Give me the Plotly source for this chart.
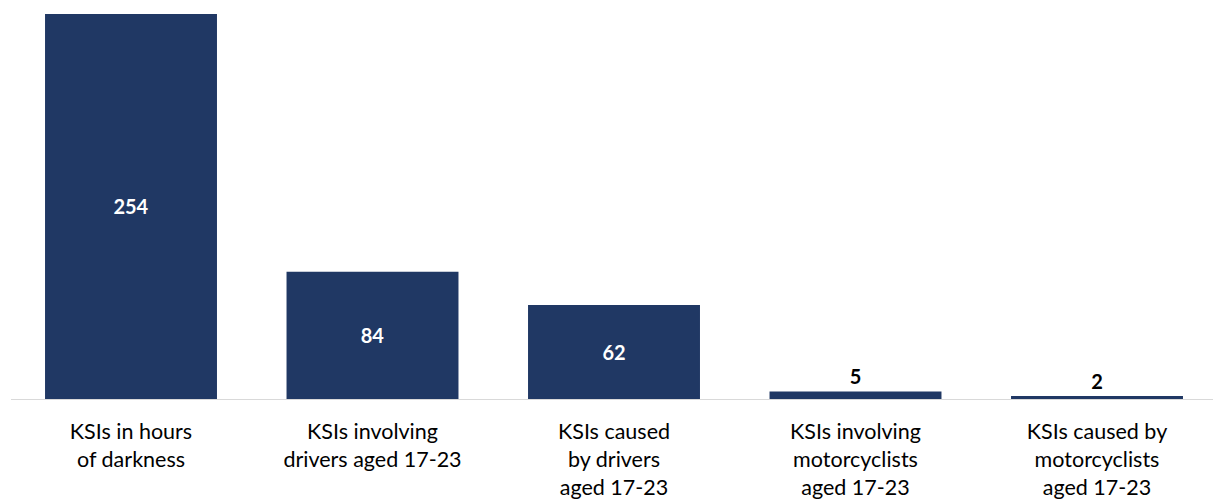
import plotly.graph_objects as go

categories = [
    "KSIs in hours<br>of darkness",
    "KSIs involving<br>drivers aged 17-23",
    "KSIs caused<br>by drivers<br>aged 17-23",
    "KSIs involving<br>motorcyclists<br>aged 17-23",
    "KSIs caused by<br>motorcyclists<br>aged 17-23",
]
values = [254, 84, 62, 5, 2]
label_positions = ["inside", "inside", "inside", "outside", "outside"]
label_colors = ["white", "white", "white", "black", "black"]

FONT = "Lato"
BAR = "#203864"

fig = go.Figure(
    go.Bar(
        x=categories,
        y=values,
        width=0.712,
        marker=dict(color=BAR, line=dict(width=0)),
        text=[str(v) for v in values],
        textposition=label_positions,
        insidetextanchor="middle",
        textangle=0,
        constraintext="none",
        textfont=dict(family=FONT, size=20, color=label_colors, weight="bold"),
        cliponaxis=False,
        hoverinfo="skip",
    )
)

fig.update_layout(
    width=1213,
    height=500,
    margin=dict(l=11, r=0, t=0, b=101, pad=0),
    paper_bgcolor="white",
    plot_bgcolor="white",
    showlegend=False,
    font=dict(family=FONT, size=20, color="black"),
    xaxis=dict(
        range=[-0.4969, 4.4803],
        showline=True,
        linecolor="#d9d9d9",
        linewidth=1,
        showgrid=False,
        zeroline=False,
        ticks="",
        ticklabelstandoff=13,
        tickfont=dict(family=FONT, size=21.5, color="black"),
    ),
    yaxis=dict(
        range=[0, 263.2],
        visible=False,
        showgrid=False,
        zeroline=False,
    ),
)

fig.write_html("out.html")
